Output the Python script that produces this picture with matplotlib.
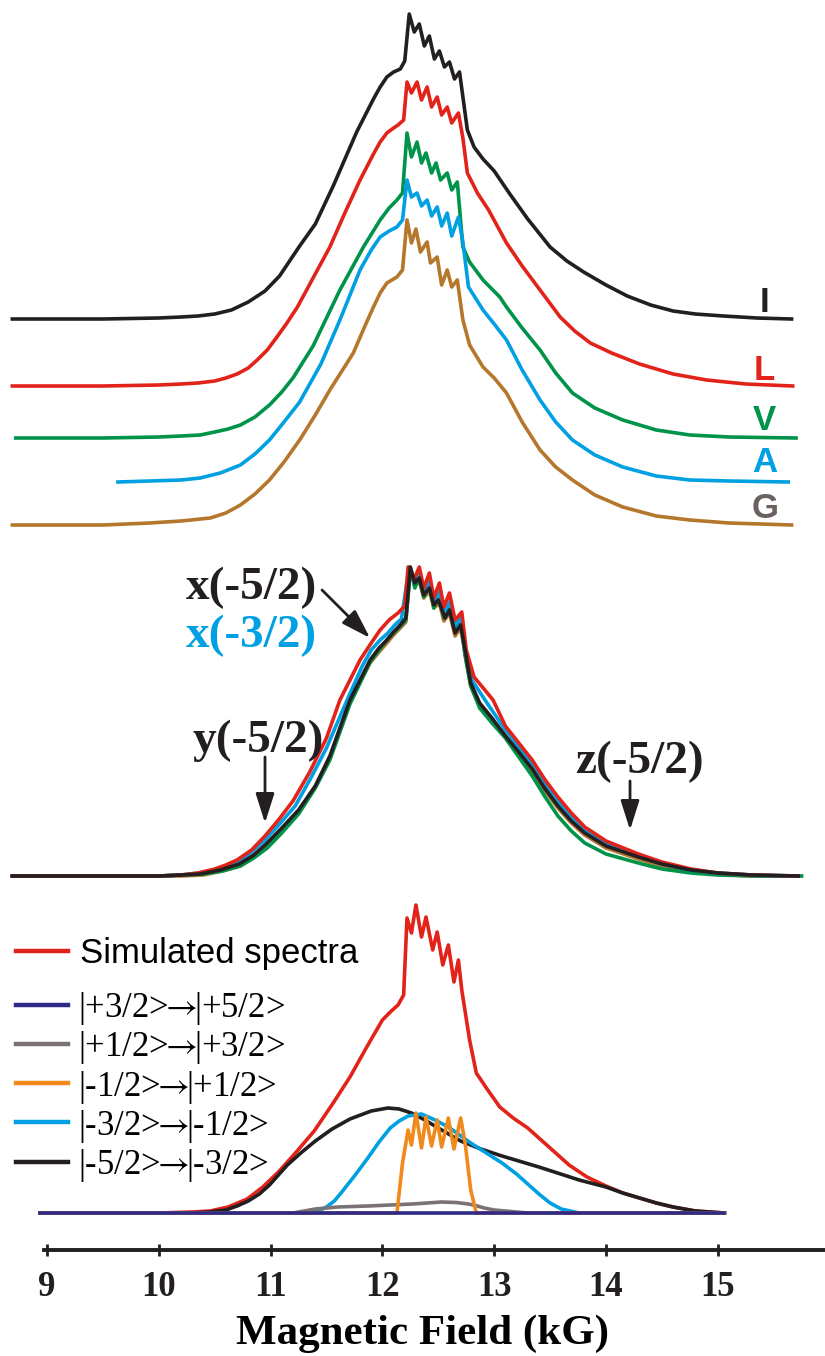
import matplotlib
matplotlib.use('Agg')
import matplotlib.pyplot as plt
from matplotlib.lines import Line2D

plt.rcParams['mathtext.fontset'] = 'stix'

# ---------------- data (field in kG, intensity in arbitrary units) ----------------
# top stack: experimental spectra of the five samples
field_I = [8.69, 9.5, 10.0, 10.2, 10.35, 10.5, 10.65, 10.8, 10.95, 11.08, 11.26, 11.4, 11.56, 11.77, 11.92, 11.98,
           12.04, 12.1, 12.16, 12.2,
           12.24, 12.285, 12.33, 12.375, 12.42, 12.465, 12.51, 12.555, 12.6, 12.645, 12.69,
           12.76, 12.82, 12.9, 13.0, 13.14, 13.3, 13.5, 13.65, 13.8, 14.0, 14.19, 14.4, 14.6, 14.8,
           15.05, 15.35, 15.66]
int_I = [0, 0, 1, 2, 3, 5, 9, 17, 28, 43, 73, 95, 133, 187, 220, 232,
         242, 247, 250, 258,
         305, 287, 295, 273, 283, 260, 268, 252, 257, 240, 247,
         189, 172, 160, 148, 125, 100, 72, 58, 47, 34, 23, 14, 8, 5,
         3, 1, 0]

field_L = [8.69, 9.5, 10.0, 10.2, 10.35, 10.5, 10.6, 10.7, 10.8, 10.88, 10.97, 11.05, 11.14, 11.24, 11.38,
           11.53, 11.66, 11.8, 11.92, 11.98, 12.04, 12.1, 12.14, 12.19,
           12.22, 12.26, 12.31, 12.35, 12.40, 12.44, 12.49, 12.53, 12.58, 12.62, 12.68,
           12.72, 12.76, 12.85, 12.95, 13.11, 13.25, 13.41, 13.59, 13.72, 13.86, 14.05, 14.3, 14.6,
           14.9, 15.25, 15.67]
int_L = [0, 0, 1, 2, 3, 5, 8, 12, 18, 26, 36, 48, 62, 79, 108,
         139, 172, 206, 232, 244, 253, 258, 261, 266,
         304, 293, 304, 286, 299, 279, 289, 271, 279, 263, 273,
         248, 213, 193, 176, 143, 120, 96, 69, 55, 43, 33, 22, 12,
         6, 2, 0]

field_V = [8.72, 9.5, 10.0, 10.2, 10.37, 10.5, 10.62, 10.73, 10.86, 10.99, 11.1, 11.2, 11.38, 11.5, 11.62,
           11.83, 11.98, 12.06, 12.13, 12.18,
           12.22, 12.26, 12.31, 12.35, 12.39, 12.44, 12.48, 12.52, 12.58, 12.62, 12.67,
           12.72, 12.78, 12.9, 13.05, 13.11, 13.25, 13.41, 13.55, 13.7, 13.9, 14.15, 14.45, 14.75,
           15.1, 15.7]
int_V = [0, 0, 1, 2, 3, 6, 9, 13, 21, 33, 46, 60, 92, 120, 148,
         191, 218, 230, 238, 245,
         305, 281, 296, 275, 285, 265, 275, 258, 265, 248, 256,
         191, 176, 158, 141, 131, 110, 88, 65, 45, 30, 18, 8, 3,
         1, 0]

field_A = [9.635, 9.92, 10.2, 10.37, 10.55, 10.73, 10.86, 10.99, 11.12, 11.26, 11.45, 11.62, 11.8, 11.9,
           11.98, 12.06, 12.13, 12.18,
           12.22, 12.26, 12.31, 12.35, 12.40, 12.44, 12.49, 12.53, 12.58, 12.62, 12.68,
           12.72, 12.77, 12.9, 13.0, 13.11, 13.25, 13.41, 13.55, 13.7, 13.9, 14.15, 14.45, 14.75,
           15.1, 15.63]
int_A = [0, 1, 2, 4, 9, 17, 28, 42, 60, 80, 118, 162, 212, 232,
         245, 251, 255, 262,
         302, 285, 289, 276, 282, 266, 275, 256, 269, 246, 265,
         240, 195, 172, 158, 142, 112, 82, 60, 42, 27, 15, 6, 2,
         1, 0]

field_G = [8.69, 9.5, 9.92, 10.2, 10.46, 10.6, 10.73, 10.86, 10.99, 11.12, 11.26, 11.4, 11.53, 11.74,
           11.84, 11.92, 11.98, 12.04, 12.13, 12.18,
           12.22, 12.26, 12.30, 12.34, 12.40, 12.43, 12.49, 12.53, 12.58, 12.62, 12.67,
           12.72, 12.78, 12.9, 13.0, 13.11, 13.25, 13.41, 13.55, 13.7, 13.9, 14.15, 14.45, 14.75,
           15.1, 15.66]
int_G = [0, 0, 2, 4, 7, 12, 20, 31, 45, 63, 85, 110, 135, 172,
         198, 218, 232, 242, 248, 255,
         305, 282, 296, 273, 283, 262, 268, 240, 255, 238, 245,
         205, 180, 158, 147, 132, 103, 75, 58, 45, 30, 18, 9, 5,
         2, 0]

# middle stack: simulations of single orientations
field_mid_black = [8.69, 10.0, 10.2, 10.37, 10.55, 10.72, 10.85, 10.96, 11.1, 11.25, 11.4, 11.53, 11.71, 11.89,
                   11.97, 12.04, 12.1, 12.16, 12.21,
                   12.25, 12.29, 12.33, 12.37, 12.42, 12.46, 12.50, 12.56, 12.60, 12.65, 12.70,
                   12.74, 12.79, 12.87, 12.98, 13.1, 13.22, 13.34, 13.45, 13.57, 13.69, 13.81, 14.0, 14.29,
                   14.5, 14.76, 15.0, 15.3, 15.72]
int_mid_black = [0, 0, 1, 2, 6, 12, 21, 32, 48, 66, 90, 120, 176, 216,
                 228, 236, 244, 251, 258,
                 309, 293, 298, 281, 288, 271, 276, 258, 266, 243, 251,
                 226, 193, 173, 158, 140, 124, 107, 88, 70, 55, 43, 30, 19,
                 12, 6, 3, 1, 0]

field_mid_red = [8.69, 10.0, 10.2, 10.35, 10.5, 10.6, 10.7, 10.83, 10.95, 11.07, 11.2, 11.35, 11.5, 11.62,
                 11.8, 11.9, 11.98, 12.06, 12.14, 12.2,
                 12.23, 12.28, 12.33, 12.37, 12.42, 12.46, 12.51, 12.55, 12.60, 12.65, 12.71,
                 12.75, 12.82, 12.99, 13.1, 13.22, 13.34, 13.45, 13.57, 13.69, 13.81, 14.0, 14.29,
                 14.5, 14.76, 15.0, 15.3, 15.72]
int_mid_red = [0, 0, 1, 3, 7, 11, 16, 26, 40, 56, 75, 104, 138, 176,
               216, 233, 246, 256, 263, 270,
               309, 296, 309, 288, 303, 278, 293, 269, 283, 256, 264,
               226, 199, 176, 150, 133, 116, 97, 79, 63, 49, 35, 22,
               14, 7, 3, 1, 0]

field_mid_blue = [8.69, 10.0, 10.2, 10.36, 10.5, 10.6, 10.71, 10.83, 10.95, 11.08, 11.22, 11.36, 11.5, 11.7,
                  11.82, 11.9, 11.98, 12.05, 12.11, 12.17,
                  12.24, 12.28, 12.33, 12.37, 12.42, 12.46, 12.51, 12.55, 12.60, 12.65, 12.70,
                  12.74, 12.8, 12.93, 13.1, 13.22, 13.34, 13.45, 13.57, 13.69, 13.81, 14.0, 14.29,
                  14.5, 14.76, 15.0, 15.3, 15.72]
int_mid_blue = [0, 0, 1, 3, 6, 9, 14, 24, 36, 52, 70, 98, 128, 180,
                210, 226, 236, 243, 251, 257,
                309, 294, 303, 284, 295, 274, 284, 263, 274, 250, 258,
                226, 196, 174, 146, 129, 112, 93, 75, 59, 46, 32, 20,
                12, 6, 3, 1, 0]

field_mid_green = [8.69, 10.0, 10.2, 10.4, 10.57, 10.73, 10.85, 10.97, 11.1, 11.25, 11.4, 11.53, 11.71, 11.89,
                   11.97, 12.04, 12.1, 12.16, 12.21,
                   12.25, 12.29, 12.33, 12.37, 12.42, 12.46, 12.51, 12.55, 12.60, 12.65, 12.70,
                   12.74, 12.79, 12.87, 12.98, 13.1, 13.22, 13.34, 13.45, 13.57, 13.69, 13.81, 14.0, 14.29,
                   14.5, 14.76, 15.0, 15.3, 15.75]
int_mid_green = [0, 0, 1, 2, 5, 10, 18, 28, 43, 62, 88, 116, 172, 214,
                 226, 236, 243, 250, 256,
                 308, 288, 298, 279, 292, 268, 282, 258, 272, 248, 258,
                 220, 190, 168, 153, 138, 119, 100, 80, 60, 45, 33, 22, 13,
                 7, 3, 1, 0, 0]

field_mid_brown = [8.69, 10.0, 10.2, 10.4, 10.57, 10.73, 10.85, 10.97, 11.1, 11.25, 11.4, 11.53, 11.71, 11.89,
                   11.97, 12.04, 12.1, 12.16, 12.21,
                   12.25, 12.29, 12.33, 12.37, 12.42, 12.46, 12.51, 12.55, 12.60, 12.65, 12.70,
                   12.74, 12.79, 12.87, 12.98, 13.1, 13.22, 13.34, 13.45, 13.57, 13.69, 13.81, 14.0, 14.29,
                   14.5, 14.76, 15.0, 15.3, 15.72]
int_mid_brown = [0, 0, 0, 1, 5, 10, 19, 30, 46, 64, 90, 118, 174, 213,
                 224, 233, 241, 248, 254,
                 306, 290, 295, 278, 285, 268, 273, 255, 263, 240, 248,
                 222, 190, 170, 156, 140, 122, 104, 86, 68, 53, 41, 28, 17,
                 10, 5, 2, 0, 0]

# bottom: simulated spectrum and its transitions
field_sim = [8.94, 10.0, 10.3, 10.46, 10.62, 10.79, 10.93, 11.07, 11.23, 11.39, 11.56, 11.71, 11.86, 12.0,
             12.08, 12.14, 12.19,
             12.22, 12.26, 12.30, 12.35, 12.39, 12.45, 12.49, 12.54, 12.59, 12.64, 12.68,
             12.71, 12.78, 12.84, 12.93, 13.05, 13.17, 13.3, 13.48, 13.67, 13.83, 14.0, 14.15, 14.3,
             14.45, 14.6, 14.8, 15.06]
int_sim = [0, 0, 1, 2, 6, 14, 26, 41, 61, 82, 110, 136, 166, 193,
           202, 208, 218,
           295, 280, 308, 276, 296, 263, 281, 248, 268, 231, 253,
           223, 173, 140, 125, 106, 95, 85, 67, 48, 36, 27, 20, 15,
           10, 6, 2, 0]

field_t1 = [8.94, 15.06]                                                    # |+3/2> -> |+5/2>
int_t1 = [0, 0]
field_t2 = [8.94, 11.2, 11.3, 11.4, 11.6, 11.87, 12.27, 12.4, 12.53, 12.66, 12.77, 12.85, 12.91,
            13.0, 13.1, 13.3, 15.06]                                        # |+1/2> -> |+3/2>
int_t2 = [0, 0, 2, 4, 6, 7, 9, 10, 11, 10.5, 9, 7, 5, 3, 2, 0, 0]
field_t3 = [8.94, 12.13, 12.18, 12.23, 12.26, 12.30, 12.35, 12.39, 12.44, 12.49, 12.53,
            12.59, 12.64, 12.70, 12.74, 12.79, 12.84, 15.06]               # |-1/2> -> |+1/2>
int_t3 = [0, 0, 50, 83, 68, 100, 65, 96, 67, 93, 66, 95, 64, 95, 70, 23, 0, 0]
field_t4 = [8.94, 11.36, 11.43, 11.5, 11.57, 11.63, 11.75, 11.87, 11.97, 12.07, 12.15, 12.23, 12.35,
            12.47, 12.59, 12.79, 12.93, 13.07, 13.2, 13.31, 13.4, 13.5, 13.6, 13.76, 15.06]
int_t4 = [0, 0, 2, 6, 12, 20, 37, 55, 71, 85, 92, 97, 99,
          93, 86, 70, 60, 50, 39, 28, 19, 10, 4, 0, 0]                      # |-3/2> -> |-1/2>
field_t5 = [8.94, 10.3, 10.45, 10.6, 10.7, 10.8, 10.9, 10.99, 11.07, 11.15, 11.27, 11.4, 11.55, 11.71,
            11.9, 12.05, 12.15, 12.26, 12.38, 12.5, 12.7, 12.88, 13.07, 13.4, 13.76, 14.0, 14.15,
            14.3, 14.45, 14.6, 14.8, 15.06]
int_t5 = [0, 0, 1, 3, 7, 12, 19, 28, 38, 48, 60, 72, 84, 94,
          102, 105, 104, 100, 93, 85, 72, 64, 57, 46, 33, 26, 20,
          15, 10, 6, 2, 0]                                                  # |-5/2> -> |-3/2>

sample_labels = ['I', 'L', 'V', 'A', 'G']
ARROW = r'$\!\!\rightarrow\!\!$'
transition_labels = ['|+3/2>' + ARROW + '|+5/2>', '|+1/2>' + ARROW + '|+3/2>', '|-1/2>' + ARROW + '|+1/2>',
                     '|-3/2>' + ARROW + '|-1/2>', '|-5/2>' + ARROW + '|-3/2>']
ticks = [9, 10, 11, 12, 13, 14, 15]

# vertical offsets of the stacked traces
offsets_top = [931, 864, 812, 768, 725]
offset_mid = 374
offset_bot = 37

### ~~~~~~~~~~~~~~~~~~~~~~~~~~~~~~~~~~~~~~~ ###
BLACK = '#231f20'
RED = '#e2231a'
GREEN = '#00934a'
BLUE = '#00a0e3'
BROWN = '#b5772b'
NAVY = '#2e2a85'
GRAY = '#7a7274'
ORANGE = '#f08a1c'
LW = 2.6

fig = plt.figure(figsize=(8.25, 13.56), dpi=100)
ax = fig.add_axes([0, 106 / 1356, 1, 1250 / 1356])
ax.set_xlim(8.5796, 15.959)
ax.set_ylim(0, 1250)

def shifted(vals, off):
    return [v + off for v in vals]

# top stack
top = [(field_I, int_I, BLACK), (field_L, int_L, RED), (field_V, int_V, GREEN),
       (field_A, int_A, BLUE), (field_G, int_G, BROWN)]
for (f, y, c), off in zip(top, offsets_top):
    ax.plot(f, shifted(y, off), color=c, lw=LW, solid_joinstyle='round')

label_colors = [BLACK, RED, GREEN, BLUE, '#6b6260']
label_y = [948, 879, 829, 787, 741]
for lab, c, yy in zip(sample_labels, label_colors, label_y):
    ax.text(15.42, yy, lab, color=c, fontsize=25, fontweight='bold',
            family='Liberation Sans', ha='center', va='center')

# middle stack
mid = [(field_mid_brown, int_mid_brown, BROWN), (field_mid_green, int_mid_green, GREEN),
       (field_mid_blue, int_mid_blue, BLUE), (field_mid_red, int_mid_red, RED),
       (field_mid_black, int_mid_black, BLACK)]
for f, y, c in mid:
    ax.plot(f, shifted(y, offset_mid), color=c, lw=LW, solid_joinstyle='round')

afont = dict(fontsize=34, fontweight='bold', family='Liberation Serif', ha='center', va='center')
aprops = dict(arrowstyle='-|>,head_length=1.2,head_width=0.38', mutation_scale=15,
              color=BLACK, lw=2, shrinkA=0, shrinkB=0)
ax.text(10.83, 662, 'x(-5/2)', color=BLACK, **afont)
ax.text(10.83, 614, 'x(-3/2)', color=BLUE, **afont)
ax.annotate('', xy=(11.89, 612), xytext=(11.46, 660), arrowprops=aprops)
ax.text(10.89, 509, 'y(-5/2)', color=BLACK, **afont)
ax.annotate('', xy=(10.95, 427), xytext=(10.95, 493), arrowprops=aprops)
ax.text(14.30, 488, 'z(-5/2)', color=BLACK, **afont)
ax.annotate('', xy=(14.215, 420), xytext=(14.215, 469), arrowprops=aprops)

# bottom: simulation and transitions
ax.plot(field_sim, shifted(int_sim, offset_bot), color=RED, lw=LW, solid_joinstyle='round')
ax.plot(field_t5, shifted(int_t5, offset_bot), color=BLACK, lw=LW, solid_joinstyle='round')
ax.plot(field_t4, shifted(int_t4, offset_bot), color=BLUE, lw=LW, solid_joinstyle='round')
ax.plot(field_t2, shifted(int_t2, offset_bot), color=GRAY, lw=LW, solid_joinstyle='round')
ax.plot(field_t3, shifted(int_t3, offset_bot), color=ORANGE, lw=LW, solid_joinstyle='round')
ax.plot(field_t1, shifted(int_t1, offset_bot), color=NAVY, lw=LW)

h1 = [Line2D([], [], color=RED, lw=3.2)]
leg1 = ax.legend(h1, ['Simulated spectra'], loc='center left',
                 bbox_to_anchor=(16 / 825, (1250 - 954) / 1250), frameon=False,
                 borderpad=0, borderaxespad=0, handlelength=1.5, handletextpad=0.35,
                 prop={'family': 'Liberation Sans', 'size': 25})
ax.add_artist(leg1)
h2 = [Line2D([], [], color=c, lw=3.2) for c in [NAVY, GRAY, ORANGE, BLUE, BLACK]]
leg2 = ax.legend(h2, transition_labels, loc='center left',
                 bbox_to_anchor=(16 / 825, (1250 - 1087) / 1250), frameon=False,
                 borderpad=0, borderaxespad=0, handlelength=1.5, handletextpad=0.3,
                 labelspacing=0.06, prop={'family': 'Liberation Serif', 'size': 25})

# axis styling
for s in ['left', 'right', 'top']:
    ax.spines[s].set_visible(False)
ax.spines['bottom'].set_linewidth(2.8)
ax.spines['bottom'].set_color(BLACK)
ax.spines['bottom'].set_bounds(8.973, 15.959)
ax.set_yticks([])
ax.set_xticks(ticks)
ax.set_xticklabels([str(t) for t in ticks])
ax.tick_params(axis='x', direction='inout', length=8, width=2, pad=11, colors=BLACK)
for t in ax.get_xticklabels():
    t.set_fontfamily('Liberation Serif')
    t.set_fontweight('bold')
    t.set_fontsize(25)
ax.set_xlabel('Magnetic Field (kG)', fontsize=31, fontweight='bold', family='Liberation Serif')
ax.xaxis.set_label_coords(423 / 825, -0.052)
ax.patch.set_visible(False)

fig.savefig('out.png', dpi=100)
